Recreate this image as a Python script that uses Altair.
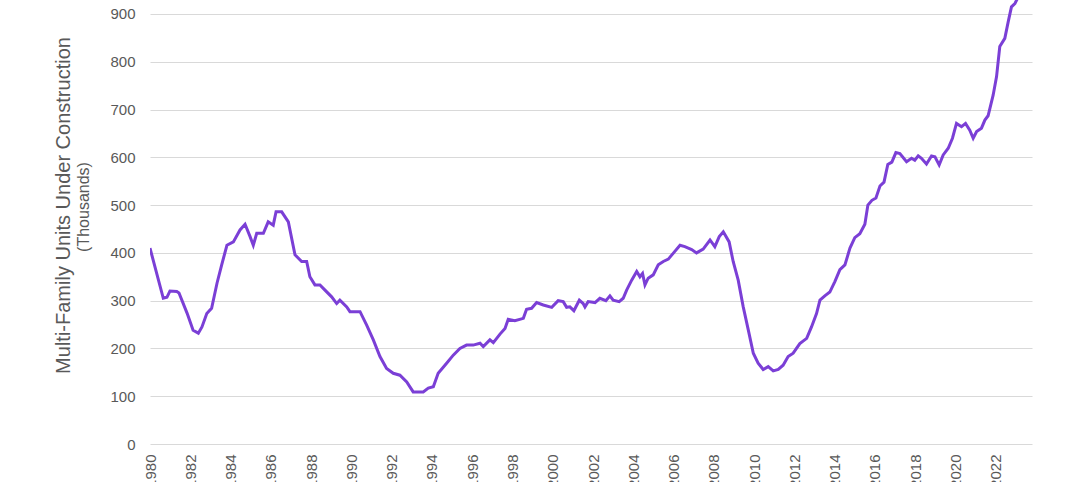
import altair as alt
import pandas as pd

# Decimal year of each reading and multi-family units under construction (thousands)
years = [
    1980.00, 1980.66, 1980.84, 1980.99, 1981.33, 1981.44, 1981.84, 1982.14, 1982.40, 1982.58,
    1982.82, 1983.06, 1983.33, 1983.56, 1983.82, 1984.14, 1984.47, 1984.72, 1984.97, 1985.13,
    1985.30, 1985.63, 1985.87, 1986.12, 1986.26, 1986.54, 1986.87, 1987.20, 1987.53, 1987.78,
    1987.94, 1988.19, 1988.44, 1988.69, 1989.02, 1989.27, 1989.43, 1989.77, 1989.93, 1990.43,
    1990.76, 1991.09, 1991.42, 1991.75, 1992.08, 1992.41, 1992.75, 1993.07, 1993.57, 1993.82,
    1994.07, 1994.31, 1994.73, 1995.06, 1995.39, 1995.72, 1996.05, 1996.39, 1996.55, 1996.88,
    1997.05, 1997.38, 1997.63, 1997.79, 1998.12, 1998.54, 1998.70, 1998.95, 1999.20, 1999.53,
    1999.95, 2000.27, 2000.52, 2000.69, 2000.85, 2001.05, 2001.32, 2001.51, 2001.60, 2001.76,
    2002.10, 2002.34, 2002.64, 2002.84, 2003.00, 2003.30, 2003.50, 2003.67, 2003.92, 2004.17,
    2004.33, 2004.46, 2004.58, 2004.74, 2004.99, 2005.24, 2005.49, 2005.74, 2005.98, 2006.32,
    2006.56, 2006.90, 2007.14, 2007.47, 2007.81, 2008.05, 2008.27, 2008.47, 2008.76, 2008.96,
    2009.21, 2009.46, 2009.71, 2009.96, 2010.20, 2010.45, 2010.70, 2010.95, 2011.20, 2011.44,
    2011.69, 2011.94, 2012.27, 2012.61, 2012.85, 2013.10, 2013.27, 2013.51, 2013.76, 2014.01,
    2014.26, 2014.51, 2014.76, 2015.00, 2015.25, 2015.50, 2015.65, 2015.85, 2016.05, 2016.25,
    2016.45, 2016.64, 2016.84, 2017.04, 2017.24, 2017.57, 2017.82, 2017.98, 2018.15, 2018.31,
    2018.56, 2018.81, 2018.98, 2019.19, 2019.39, 2019.64, 2019.85, 2020.05, 2020.30, 2020.50,
    2020.71, 2020.88, 2021.05, 2021.29, 2021.46, 2021.62, 2021.87, 2022.04, 2022.20, 2022.45,
    2022.62, 2022.78, 2022.95, 2023.11, 2023.44, 2023.79,
]
units = [
    410, 305, 307, 320, 319, 316, 274, 238, 232, 245,
    273, 284, 337, 375, 416, 423, 448, 460, 434, 416,
    441, 441, 465, 458, 486, 486, 465, 396, 382, 382,
    350, 333, 333, 322, 308, 294, 301, 287, 277, 277,
    249, 218, 183, 158, 148, 144, 130, 109, 109, 117,
    120, 148, 169, 186, 200, 207, 207, 211, 204, 218,
    212, 230, 242, 261, 258, 263, 282, 284, 296, 291,
    286, 300, 298, 286, 287, 279, 301, 294, 287, 298,
    296, 305, 300, 310, 301, 298, 305, 322, 343, 361,
    350, 357, 333, 347, 354, 375, 382, 387, 399, 416,
    413, 407, 400, 408, 427, 413, 434, 444, 423, 382,
    343, 287, 239, 190, 169, 156, 162, 153, 156, 165,
    183, 190, 210, 221, 245, 273, 301, 310, 318, 340,
    365, 375, 410, 432, 440, 460, 500, 510, 515, 540,
    548, 585, 590, 610, 608, 591, 598, 594, 603, 598,
    586, 603, 601, 584, 605, 619, 640, 671, 664, 671,
    657, 640, 654, 661, 678, 687, 730, 769, 832, 849,
    884, 915, 922, 935, 965, 985,
]
x_ticks = list(range(1980, 2023, 2))
y_ticks = [0, 100, 200, 300, 400, 500, 600, 700, 800, 900]

df = pd.DataFrame({"year": years, "units": units})

FONT = "Liberation Sans"
GRAY = "#595959"

line = alt.Chart(df).mark_line(color="#7B3FD6", strokeWidth=3, clip=True).encode(
    x=alt.X(
        "year:Q",
        scale=alt.Scale(domain=[1980, 2023.8], nice=False, zero=False),
        axis=alt.Axis(
            values=x_ticks, format="d", title=None, grid=False, domain=False, ticks=False,
            labelAngle=270, labelAlign="right", labelBaseline="middle", labelPadding=10,
            labelFont=FONT, labelFontSize=15, labelColor=GRAY, labelOverlap=False,
        ),
    ),
    y=alt.Y(
        "units:Q",
        scale=alt.Scale(domain=[0, 929.3], nice=False),
        axis=alt.Axis(
            values=y_ticks, title="Multi-Family Units Under Construction",
            grid=True, gridColor="#d9d9d9", gridWidth=1, domain=False, ticks=False,
            labelPadding=15, labelFont=FONT, labelFontSize=15, labelColor=GRAY,
            titleFont=FONT, titleFontSize=20, titleFontWeight="normal", titleColor=GRAY,
            titleAngle=270, titleAlign="center", titleBaseline="middle",
            titleX=-87, titleY=205,
        ),
    ),
)

subtitle = alt.Chart(pd.DataFrame({"t": ["(Thousands)"]})).mark_text(
    angle=270, font=FONT, fontSize=16, color=GRAY, align="center", baseline="middle"
).encode(x=alt.value(-66), y=alt.value(207), text="t:N")

chart = alt.layer(line, subtitle).properties(
    width=882, height=444,
    padding={"left": 150, "top": 0, "right": 48, "bottom": 38},
    autosize=alt.AutoSizeParams(type="none"),
).configure_view(stroke=None)

chart.save("out.html", embed_options={"renderer": "svg", "actions": False})
